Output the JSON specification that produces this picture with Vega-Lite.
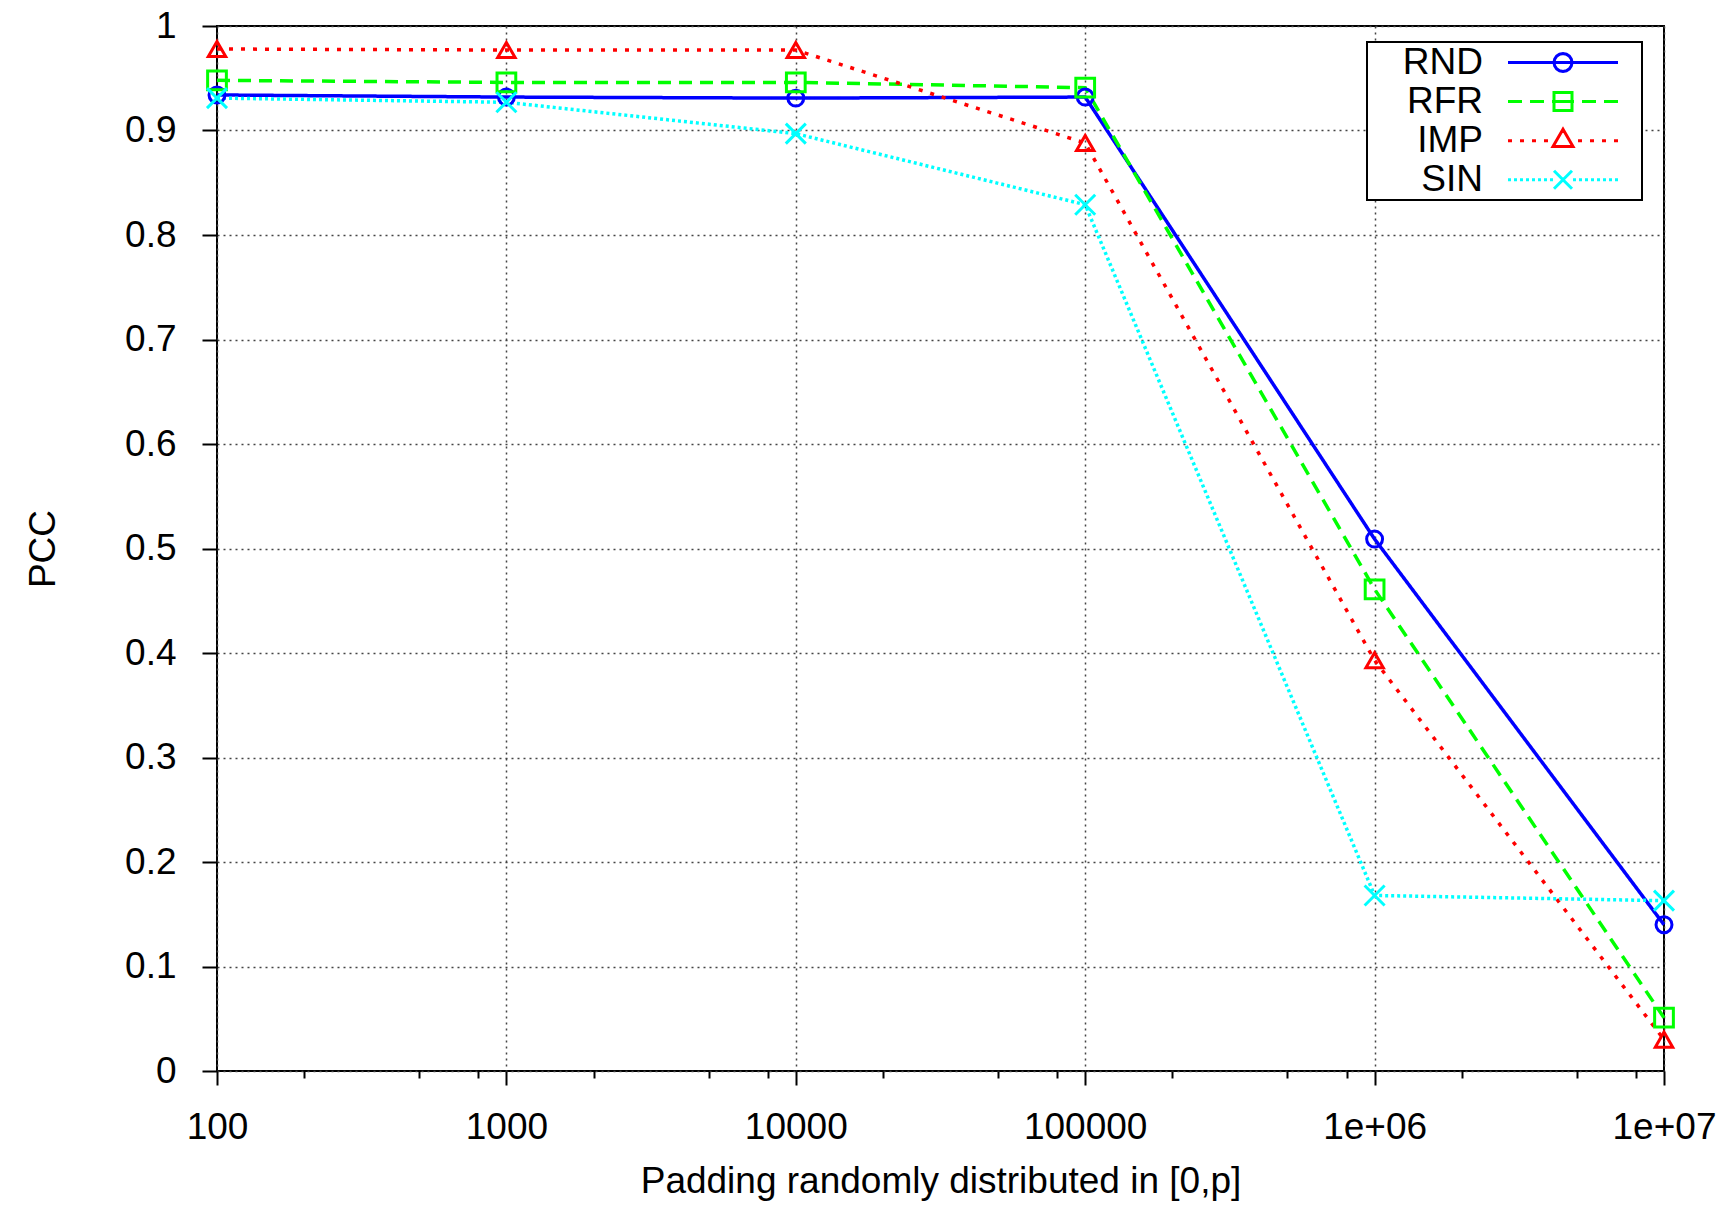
{
  "$schema": "https://vega.github.io/schema/vega-lite/v6.json",
  "autosize": {"type": "none"},
  "width": 1447,
  "height": 1045,
  "padding": {"left": 217, "top": 26, "right": 70, "bottom": 136},
  "background": "white",
  "config": {
    "font": "Liberation Sans",
    "view": {"stroke": "black", "strokeWidth": 2},
    "legend": {"strokeWidth": 2},
    "axis": {
      "labelFont": "Liberation Sans", "labelFontSize": 37, "labelColor": "black",
      "titleFont": "Liberation Sans", "titleFontSize": 37, "titleFontWeight": "normal", "titleColor": "black",
      "tickColor": "black", "tickWidth": 2, "domain": false,
      "gridColor": "#444444", "gridDash": [2, 4], "gridWidth": 1.5
    }
  },
  "data": {"values": [
    {"p": 100, "s": "RND", "v": 0.934}, {"p": 1000, "s": "RND", "v": 0.932}, {"p": 10000, "s": "RND", "v": 0.931},
    {"p": 100000, "s": "RND", "v": 0.932}, {"p": 1000000, "s": "RND", "v": 0.509}, {"p": 10000000, "s": "RND", "v": 0.140},
    {"p": 100, "s": "RFR", "v": 0.948}, {"p": 1000, "s": "RFR", "v": 0.946}, {"p": 10000, "s": "RFR", "v": 0.946},
    {"p": 100000, "s": "RFR", "v": 0.941}, {"p": 1000000, "s": "RFR", "v": 0.461}, {"p": 10000000, "s": "RFR", "v": 0.051},
    {"p": 100, "s": "IMP", "v": 0.978}, {"p": 1000, "s": "IMP", "v": 0.977}, {"p": 10000, "s": "IMP", "v": 0.977},
    {"p": 100000, "s": "IMP", "v": 0.888}, {"p": 1000000, "s": "IMP", "v": 0.393}, {"p": 10000000, "s": "IMP", "v": 0.030},
    {"p": 100, "s": "SIN", "v": 0.931}, {"p": 1000, "s": "SIN", "v": 0.927}, {"p": 10000, "s": "SIN", "v": 0.897},
    {"p": 100000, "s": "SIN", "v": 0.829}, {"p": 1000000, "s": "SIN", "v": 0.168}, {"p": 10000000, "s": "SIN", "v": 0.163}
  ]},
  "resolve": {"axis": {"x": "independent"}, "scale": {"shape": "independent"}},
  "layer": [
    {
      "mark": {"type": "line", "strokeWidth": 3.5, "strokeCap": "butt"},
      "encoding": {
        "x": {"field": "p", "type": "quantitative",
          "scale": {"type": "log", "domain": [100, 10000000], "nice": false},
          "axis": {"orient": "bottom", "values": [100, 1000, 10000, 100000, 1000000, 10000000],
            "labelExpr": "datum.value >= 1000000 ? (datum.value == 1000000 ? '1e+06' : '1e+07') : format(datum.value, 'd')",
            "tickSize": 14, "labelPadding": 24, "grid": true, "labelFlush": false, "labelOverlap": false,
            "title": "Padding randomly distributed in [0,p]", "titlePadding": 18}},
        "y": {"field": "v", "type": "quantitative",
          "scale": {"domain": [0, 1], "nice": false},
          "axis": {"values": [0, 0.1, 0.2, 0.3, 0.4, 0.5, 0.6, 0.7, 0.8, 0.9, 1],
            "labelExpr": "toString(round(datum.value*10)/10)",
            "tickSize": 15, "labelPadding": 26, "grid": true, "title": "PCC", "titlePadding": 62}},
        "color": {"field": "s", "type": "nominal",
          "scale": {"domain": ["RND", "RFR", "IMP", "SIN"], "range": ["#0000ff", "#00ff00", "#ff0000", "#00ffff"]},
          "legend": {
            "title": null, "orient": "none", "legendX": 1150, "legendY": 16,
            "padding": 2, "fillColor": "white", "strokeColor": "black",
            "rowPadding": 1.1,
            "symbolSize": 400, "symbolStrokeWidth": 3, "symbolOffset": 175.5, "symbolOpacity": 1,
            "symbolFillColor": "transparent",
            "labelOffset": -98.5, "labelAlign": "right", "labelFontSize": 37, "labelFont": "Liberation Sans",
            "labelColor": "black", "labelLimit": 400
          }},
        "strokeDash": {"field": "s", "type": "nominal",
          "scale": {"domain": ["RND", "IMP", "RFR", "SIN"], "range": [[1, 0], [4, 8], [13, 8], [3, 3]]},
          "legend": null}
      }
    },
    {
      "mark": {"type": "point", "filled": false, "strokeWidth": 3, "opacity": 1},
      "encoding": {
        "x": {"field": "p", "type": "quantitative",
          "scale": {"type": "log", "domain": [100, 10000000], "nice": false},
          "axis": {"orient": "bottom", "values": [200, 500, 800, 2000, 5000, 8000, 20000, 50000, 80000, 200000, 500000, 800000, 2000000, 5000000, 8000000],
            "labels": false, "tickSize": 7, "grid": false, "title": null}},
        "y": {"field": "v", "type": "quantitative",
          "scale": {"domain": [0, 1], "nice": false},
          "axis": {"values": [0, 0.1, 0.2, 0.3, 0.4, 0.5, 0.6, 0.7, 0.8, 0.9, 1],
            "labelExpr": "toString(round(datum.value*10)/10)",
            "tickSize": 15, "labelPadding": 26, "grid": true, "title": "PCC", "titlePadding": 62}},
        "color": {"field": "s", "type": "nominal",
          "scale": {"domain": ["RND", "RFR", "IMP", "SIN"], "range": ["#0000ff", "#00ff00", "#ff0000", "#00ffff"]},
          "legend": null},
        "shape": {"field": "s", "type": "nominal",
          "scale": {"domain": ["RND", "IMP", "RFR", "SIN"], "range": ["circle", "triangle-up", "square", "M-1,-1L1,1M1,-1L-1,1"]},
          "legend": null},
        "size": {"field": "s", "type": "nominal",
          "scale": {"domain": ["RND", "IMP", "RFR", "SIN"], "range": [254, 400, 324, 324]},
          "legend": null}
      }
    },
    {
      "mark": {"type": "point", "filled": false, "strokeWidth": 3, "opacity": 0},
      "encoding": {
        "x": {"field": "p", "type": "quantitative",
          "scale": {"type": "log", "domain": [100, 10000000], "nice": false},
          "axis": null},
        "y": {"field": "v", "type": "quantitative",
          "scale": {"domain": [0, 1], "nice": false},
          "axis": {"values": [0, 0.1, 0.2, 0.3, 0.4, 0.5, 0.6, 0.7, 0.8, 0.9, 1],
            "labelExpr": "toString(round(datum.value*10)/10)",
            "tickSize": 15, "labelPadding": 26, "grid": true, "title": "PCC", "titlePadding": 62}},
        "color": {"field": "s", "type": "nominal",
          "scale": {"domain": ["RND", "RFR", "IMP", "SIN"], "range": ["#0000ff", "#00ff00", "#ff0000", "#00ffff"]},
          "legend": {
            "title": null, "orient": "none", "legendX": 1150, "legendY": 16,
            "padding": 2, "fillColor": "white", "strokeColor": "black",
            "rowPadding": 1.1,
            "symbolSize": 400, "symbolStrokeWidth": 3, "symbolOffset": 175.5, "symbolOpacity": 1,
            "symbolFillColor": "transparent",
            "labelOffset": -98.5, "labelAlign": "right", "labelFontSize": 37, "labelFont": "Liberation Sans",
            "labelColor": "black", "labelLimit": 400
          }},
        "shape": {"field": "s", "type": "nominal",
          "scale": {"domain": ["RND", "RFR", "IMP", "SIN"], "range": [
            "M-5.5,0L5.5,0M0.9,0L0.831,0.344L0.636,0.636L0.344,0.831L0,0.9L-0.344,0.831L-0.636,0.636L-0.831,0.344L-0.9,0L-0.831,-0.344L-0.636,-0.636L-0.344,-0.831L0,-0.9L0.344,-0.831L0.636,-0.636L0.831,-0.344ZM7.1,0",
            "M-5.5,0L-4.1,0M-3.3,0L-1.9,0M-1.1,0L1.1,0M1.9,0L3.3,0M4.1,0L5.5,0M-0.9,-0.9L0.9,-0.9L0.9,0.9L-0.9,0.9ZM7.1,0",
            "M-5.5,0L-5.1,0M-4.3,0L-3.9,0M-3.1,0L-2.7,0M-1.9,0L-1.5,0M1.5,0L1.9,0M2.7,0L3.1,0M3.9,0L4.3,0M5.1,0L5.5,0M0,-1.15L-1,0.58L1,0.58ZM7.1,0",
            "M-5.5,0L-5.2,0M-4.9,0L-4.6,0M-4.3,0L-4,0M-3.7,0L-3.4,0M-3.1,0L-2.8,0M-2.5,0L-2.2,0M-1.9,0L-1.6,0M-1.3,0L-1,0M1,0L1.3,0M1.6,0L1.9,0M2.2,0L2.5,0M2.8,0L3.1,0M3.4,0L3.7,0M4,0L4.3,0M4.6,0L4.9,0M5.2,0L5.5,0M-0.9,-0.9L0.9,0.9M0.9,-0.9L-0.9,0.9M7.1,0"
          ]},
          "legend": {
            "title": null, "orient": "none", "legendX": 1150, "legendY": 16,
            "padding": 2, "fillColor": "white", "strokeColor": "black",
            "rowPadding": 1.1,
            "symbolSize": 400, "symbolStrokeWidth": 3, "symbolOffset": 175.5, "symbolOpacity": 1,
            "symbolFillColor": "transparent",
            "symbolStrokeColor": {"expr": "datum.value === 'RND' ? '#0000ff' : datum.value === 'RFR' ? '#00ff00' : datum.value === 'IMP' ? '#ff0000' : '#00ffff'"},
            "labelOffset": -98.5, "labelAlign": "right", "labelFontSize": 37, "labelFont": "Liberation Sans",
            "labelColor": "black", "labelLimit": 400
          }}
      }
    }
  ]
}
